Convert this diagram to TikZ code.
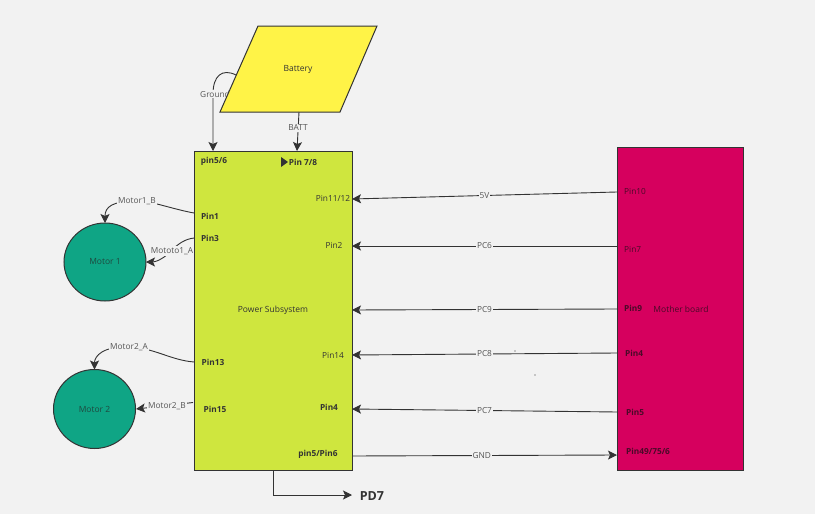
\documentclass[tikz,border=0pt]{standalone}
\usepackage{fontspec}
\setmainfont{Open Sans}
\usetikzlibrary{arrows.meta,shapes.geometric}
\definecolor{bg}{HTML}{F2F2F2}
\definecolor{lime}{HTML}{CFE63E}
\definecolor{crim}{HTML}{D6005E}
\definecolor{teal2}{HTML}{0FA585}
\definecolor{yel}{HTML}{FFF347}
\definecolor{ink}{HTML}{333333}
\definecolor{lbl}{HTML}{555555}
\definecolor{mbtext}{HTML}{4A0A28}
\definecolor{mttext}{HTML}{1E4A40}
\tikzset{
  box/.style={draw=ink,line width=1pt},
  conn/.style={draw=ink,line width=0.9pt},
  tip/.style={-{Stealth[length=9pt,width=9pt,inset=2pt]}},
  elab/.style={fill=bg,inner sep=1pt,text=lbl,font=\fontsize{8.3}{9}\selectfont},
  pin/.style={inner sep=0pt,text=ink,font=\fontsize{8.3}{9}\selectfont},
  pinb/.style={pin,font=\fontsize{8.3}{9}\selectfont\bfseries},
  mlab/.style={inner sep=0pt,text=ink,font=\fontsize{8.5}{9}\selectfont},
}
\begin{document}
\begin{tikzpicture}[x=1pt,y=-1pt]
\fill[bg] (0,0) rectangle (815,514);
\useasboundingbox (0,0) rectangle (815,514);

% Ground label and line (battery drawn over it)
\draw[conn,tip] (236,75) .. controls (222,68) and (213,76) .. (213,94) -- (213,151);
\node[elab] (lground) at (215,94) {Ground};

% Battery
\filldraw[box,fill=yel] (258,26) -- (377,26) -- (340,112) -- (220,112) -- cycle;
\node[mlab] (batt) at (298,69) {Battery};

% Boxes
\filldraw[box,fill=lime] (194,151) rectangle (352,470);
\node[mlab] (ps) at (273,310) {Power Subsystem};
\filldraw[box,fill=crim] (617,147) rectangle (743,470);
\node[mlab,text=mbtext] (mb) at (681,309) {Mother board};

% Motors
\filldraw[box,fill=teal2] (105,262) ellipse [x radius=41,y radius=39];
\node[mlab,text=mttext] (m1) at (105,262) {Motor 1};
\coordinate (m1n) at (105,223);
\coordinate (m1e) at (146,262);
\filldraw[box,fill=teal2] (94.5,409) ellipse [x radius=41,y radius=39.5];
\node[mlab,text=mttext] (m2) at (94.5,409) {Motor 2};
\coordinate (m2n) at (94.5,369.5);
\coordinate (m2e) at (136,409);

% Power subsystem pins
\node[pinb] (pA) at (214,161) {pin5/6};
\node[pinb] (pB) at (303,162) {Pin 7/8};
\fill[ink] (281,157) -- (288,162) -- (281,167) -- cycle;
\node[pinb] (p1) at (210,216) {Pin1};
\node[pinb] (p3) at (210,238) {Pin3};
\node[pin] (p1112) at (333,198) {Pin11/12};
\node[pin] (p2) at (334,245) {Pin2};
\node[pin] (p14) at (333,355) {Pin14};
\node[pinb] (p13) at (213,362) {Pin13};
\node[pinb] (p15) at (215,409) {Pin15};
\node[pinb] (p4) at (329,407) {Pin4};
\node[pinb] (p56) at (318,454) {pin5/Pin6};

% Motherboard pins
\node[pin,anchor=west,text=mbtext] (q10) at (624,191) {Pin10};
\node[pin,anchor=west,text=mbtext] (q7) at (624,249) {Pin7};
\node[pinb,anchor=west,text=mbtext] (q9) at (624,308) {Pin9};
\node[pinb,anchor=west,text=mbtext] (q4) at (625,353) {Pin4};
\node[pinb,anchor=west,text=mbtext] (q5) at (626,412) {Pin5};
\node[pinb,anchor=west,text=mbtext] (q49) at (626,451) {Pin49/75/6};

% Connection points
\coordinate (c5vL) at (352,199);  \coordinate (c5vR) at (617,192);
\coordinate (c6L) at (352,246);   \coordinate (c6R) at (617,246);
\coordinate (c9L) at (352,310);   \coordinate (c9R) at (617,309);
\coordinate (c8L) at (352,355);   \coordinate (c8R) at (617,353);
\coordinate (c7L) at (352,409);   \coordinate (c7R) at (617,412);
\coordinate (cgL) at (352,456);   \coordinate (cgR) at (617,455);

\draw[conn,tip] (c5vR) -- (c5vL) node[elab,pos=0.5] (l5v) {5V};
\draw[conn,tip] (c6R) -- (c6L) node[elab,pos=0.5] (l6) {PC6};
\draw[conn,tip] (c9R) -- (c9L) node[elab,pos=0.5] (l9) {PC9};
\draw[conn,tip] (c8R) -- (c8L) node[elab,pos=0.5] (l8) {PC8};
\draw[conn,tip] (c7R) -- (c7L) node[elab,pos=0.5] (l7) {PC7};
\draw[conn,tip] (cgL) -- (cgR) node[elab,pos=0.49] (lg) {GND};

% BATT
\coordinate (bb) at (299,112);
\coordinate (bt) at (297,151);
\draw[conn,tip] (bb) -- (bt);
\node[elab] (lbatt) at (298,128) {BATT};

% Motor 1 connections
\coordinate (s1) at (194,213);
\draw[conn,tip] (s1) .. controls (172,209) and (152,201) .. (137,201) .. controls (112,201) and (105,207) .. (m1n);
\node[elab] (lm1b) at (137,201) {Motor1\_B};
\coordinate (s3) at (194,238);
\draw[conn,tip] (s3) .. controls (185,239) and (178,244) .. (172,250) .. controls (165,258) and (156,262) .. (m1e);
\node[elab] (lm1a) at (172,251) {Mototo1\_A};

% Motor 2 connections
\coordinate (s13) at (194,362);
\draw[conn,tip] (s13) .. controls (170,360) and (155,348) .. (129,347) .. controls (103,346) and (94.5,356) .. (m2n);
\node[elab] (lm2a) at (129,347) {Motor2\_A};
\coordinate (s15) at (193,402.5);
\draw[conn,tip] (s15) -- (168,405.5) -- (m2e);
\node[elab] (lm2b) at (167,406) {Motor2\_B};

% PD7
\coordinate (pdA) at (273,470);
\coordinate (pdB) at (352,495);
\draw[conn,tip] (pdA) -- (273,495) -- (pdB);
\node[inner sep=0pt,text=ink,font=\fontsize{12.5}{13}\selectfont\bfseries] (pd7) at (372,496) {PD7};

% stray dots
\fill[ink] (515,351) circle (0.7);
\fill[ink] (535,375) circle (0.7);
\end{tikzpicture}
\end{document}
